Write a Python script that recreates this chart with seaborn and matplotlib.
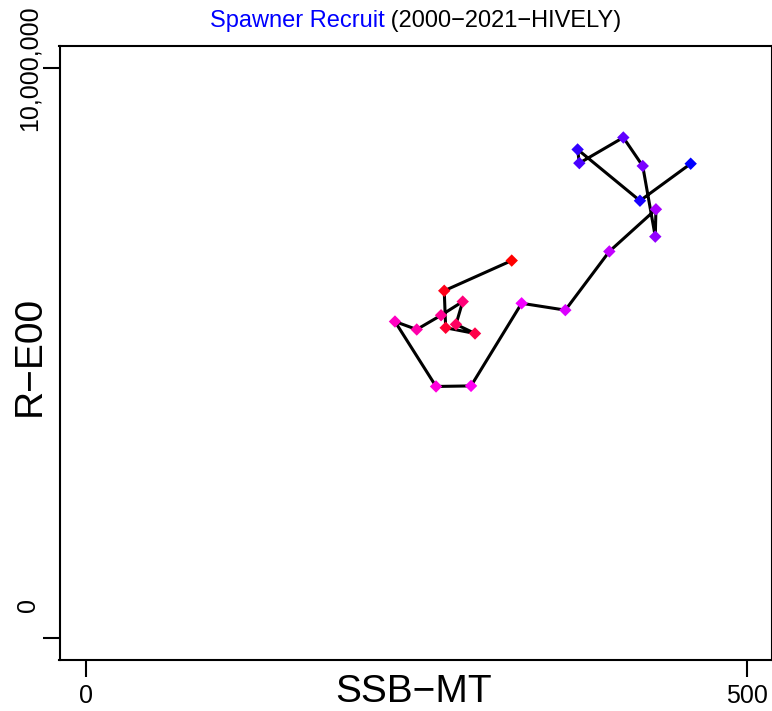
import numpy as np
import pandas as pd
import matplotlib
matplotlib.use("Agg")
import matplotlib.pyplot as plt
import seaborn as sns
from matplotlib.colors import hsv_to_rgb

# ---- data ----
years = list(range(2000, 2022))
ssb_mt = [457.6, 419.2, 372.0, 373.3, 406.6, 421.3, 430.8, 431.3, 396.0, 362.7, 329.6,
          291.3, 264.8, 233.7, 250.2, 268.6, 285.0, 279.9, 294.3, 272.1, 271.0, 322.1]
recruits_m = [8.32, 7.67, 8.57, 8.33, 8.78, 8.28, 7.04, 7.52, 6.78, 5.75, 5.87,
              4.42, 4.41, 5.55, 5.41, 5.66, 5.90, 5.50, 5.34, 5.44, 6.09, 6.62]
x_ticks = [0, 500]
x_ticklabels = ["0", "500"]
y_ticks = [0, 10_000_000]
y_ticklabels = ["         0", "10,000,000"]
title_blue = "Spawner Recruit"
title_black = " (2000\u22122021\u2212HIVELY)"
x_label = "SSB\u2212MT"
y_label = "R\u2212E00"

df = pd.DataFrame({"year": years, "ssb": ssb_mt,
                   "rec": [v * 1e6 for v in recruits_m]})

n = len(years)
colors = [hsv_to_rgb((((240 + 120 * i / (n - 1)) / 360) % 1.0, 1, 1)) for i in range(n)]
palette = dict(zip(years, colors))

sns.set_theme(style="ticks")
plt.rcParams["font.family"] = ["Liberation Sans", "DejaVu Sans"]
plt.rcParams["text.color"] = "black"
plt.rcParams["axes.labelcolor"] = "black"

W, H = 772, 711
fig = plt.figure(figsize=(W / 100, H / 100), dpi=100)
ax = fig.add_axes([59.5 / W, 51 / H, 712 / W, 614 / H])

sns.lineplot(data=df, x="ssb", y="rec", sort=False, estimator=None,
             color="black", lw=2.2, ax=ax, zorder=2)
sns.scatterplot(data=df, x="ssb", y="rec", hue="year", palette=palette,
                marker="D", s=40, linewidth=0, legend=False, ax=ax, zorder=3)

ax.set_xlim(-20.3, 518.8)
ax.set_ylim(-391000, 10386000)

ax.set_xticks(x_ticks)
ax.set_xticklabels(x_ticklabels, fontsize=18)
ax.set_yticks(y_ticks)
ax.set_yticklabels(y_ticklabels, fontsize=18, rotation=90, va="center")
ax.tick_params(axis="x", direction="out", length=12, width=1.5, pad=5, colors="black")
ax.tick_params(axis="y", direction="out", length=12, width=1.5, pad=1, colors="black")

for s in ax.spines.values():
    s.set_visible(True)
    s.set_color("black")
    s.set_linewidth(1.5)

ax.set_xlabel(x_label, fontsize=28, color="black")
ax.set_ylabel(y_label, fontsize=28, color="black")
ax.xaxis.set_label_coords(413.5 / W, 1 - 702 / H, transform=fig.transFigure)
ax.xaxis.label.set_verticalalignment("baseline")
ax.yaxis.set_label_coords(40 / W, 1 - 356 / H, transform=fig.transFigure)
ax.yaxis.label.set_verticalalignment("baseline")
ax.yaxis.label.set_rotation_mode("anchor")

# two-colour title centred over the plot region
yb = 1 - 26.7 / H
t1 = fig.text(0, yb, title_blue, color="#0000FF", fontsize=17, va="baseline", ha="left")
t2 = fig.text(0, yb, title_black, color="black", fontsize=17, va="baseline", ha="left")
fig.canvas.draw()
r = fig.canvas.get_renderer()
w1 = t1.get_window_extent(r).width
w2 = t2.get_window_extent(r).width
x0 = 415.5 - (w1 + w2) / 2
t1.set_x(x0 / W)
t2.set_x((x0 + w1) / W)

fig.savefig("out.png", dpi=100, facecolor="white")
